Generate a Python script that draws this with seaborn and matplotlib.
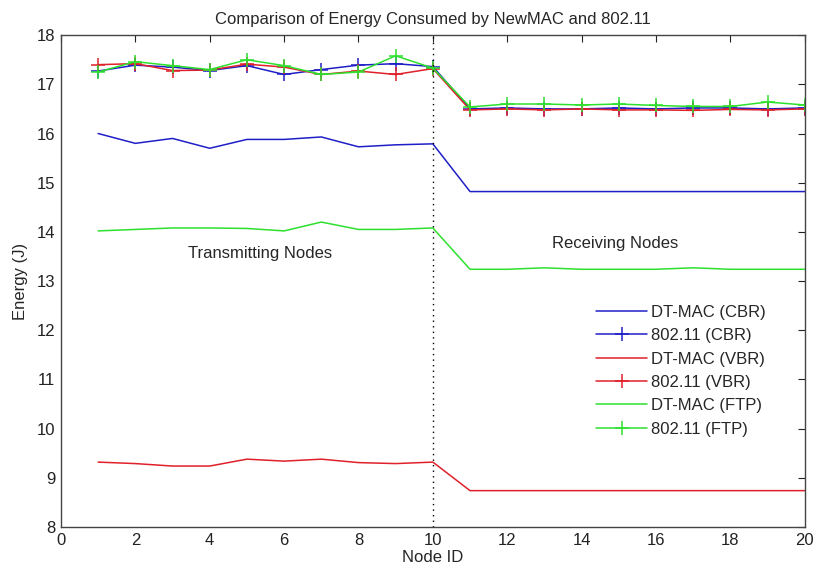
import numpy as np
import pandas as pd
import matplotlib
matplotlib.use("Agg")
import matplotlib.pyplot as plt
import seaborn as sns

nodes = list(range(1, 21))
dtmac_cbr = [16.0, 15.8, 15.9, 15.7, 15.88, 15.88, 15.93, 15.73, 15.77, 15.79,
             14.82, 14.82, 14.82, 14.82, 14.82, 14.82, 14.82, 14.82, 14.82, 14.82]
wifi_cbr = [17.27, 17.39, 17.35, 17.28, 17.38, 17.2, 17.3, 17.39, 17.42, 17.36,
            16.5, 16.52, 16.5, 16.5, 16.52, 16.5, 16.52, 16.52, 16.5, 16.52]
dtmac_vbr = [9.32, 9.29, 9.24, 9.24, 9.38, 9.34, 9.38, 9.31, 9.29, 9.32,
             8.74, 8.74, 8.74, 8.74, 8.74, 8.74, 8.74, 8.74, 8.74, 8.74]
wifi_vbr = [17.4, 17.42, 17.28, 17.29, 17.41, 17.35, 17.2, 17.27, 17.2, 17.32,
            16.48, 16.5, 16.48, 16.5, 16.48, 16.48, 16.47, 16.49, 16.48, 16.5]
dtmac_ftp = [14.02, 14.05, 14.08, 14.08, 14.07, 14.02, 14.2, 14.05, 14.05, 14.08,
             13.24, 13.24, 13.27, 13.24, 13.24, 13.24, 13.27, 13.24, 13.24, 13.24]
wifi_ftp = [17.25, 17.46, 17.38, 17.3, 17.5, 17.38, 17.2, 17.25, 17.58, 17.33,
            16.54, 16.6, 16.6, 16.58, 16.6, 16.57, 16.55, 16.55, 16.64, 16.58]

labels = ["DT-MAC (CBR)", "802.11 (CBR)", "DT-MAC (VBR)", "802.11 (VBR)",
          "DT-MAC (FTP)", "802.11 (FTP)"]
series = [dtmac_cbr, wifi_cbr, dtmac_vbr, wifi_vbr, dtmac_ftp, wifi_ftp]
colors = ["#1f1fc8", "#1f1fc8", "#e0202a", "#e0202a", "#2ee02e", "#2ee02e"]
markers = [None, "+", None, "+", None, "+"]

title = "Comparison of Energy Consumed by NewMAC and 802.11"
xlabel = "Node ID"
ylabel = "Energy (J)"
xticks = list(range(0, 21, 2))
yticks = list(range(8, 19))

sns.set_style("white")
plt.rcParams["font.family"] = ["Liberation Sans", "DejaVu Sans"]

FS = 12
fig = plt.figure(figsize=(8.17, 5.76), dpi=100)
ax = fig.add_axes([0.0746, 0.085, 0.9104, 0.854])

for lab, vals, col, mk in zip(labels, series, colors, markers):
    df = pd.DataFrame({"node": nodes, "energy": vals})
    kw = dict(marker=mk, markersize=10, markeredgewidth=1.1,
              markeredgecolor=col, markerfacecolor=col) if mk else {}
    sns.lineplot(data=df, x="node", y="energy", ax=ax, color=col,
                 linewidth=1.1, label=lab, **kw)

ax.axvline(10, color="black", linestyle=(0, (1, 3)), linewidth=1.0)

ax.set_xlim(0, 20)
ax.set_ylim(8, 18)
ax.set_xticks(xticks)
ax.set_yticks(yticks)
ax.tick_params(direction="in", length=5, top=True, right=True, labelsize=FS,
               colors="#222222", pad=4)
for s in ax.spines.values():
    s.set_color("#444444")
    s.set_linewidth(1.0)

ax.set_title(title, fontsize=FS, pad=8)
ax.set_xlabel(xlabel, fontsize=FS, labelpad=2)
ax.set_ylabel(ylabel, fontsize=FS, labelpad=6)

ax.text(5.36, 13.57, "Transmitting Nodes", fontsize=FS, ha="center", va="center")
ax.text(14.9, 13.77, "Receiving Nodes", fontsize=FS, ha="center", va="center")

leg = ax.legend(loc="upper left", bbox_to_anchor=(0.71, 0.465), borderaxespad=0,
                frameon=True, fontsize=FS, handlelength=3.1, handletextpad=0.2,
                labelspacing=0.5, borderpad=0.4, fancybox=False)
leg.get_frame().set_edgecolor("white")
leg.get_frame().set_facecolor("white")

fig.savefig("out.png", dpi=100)
